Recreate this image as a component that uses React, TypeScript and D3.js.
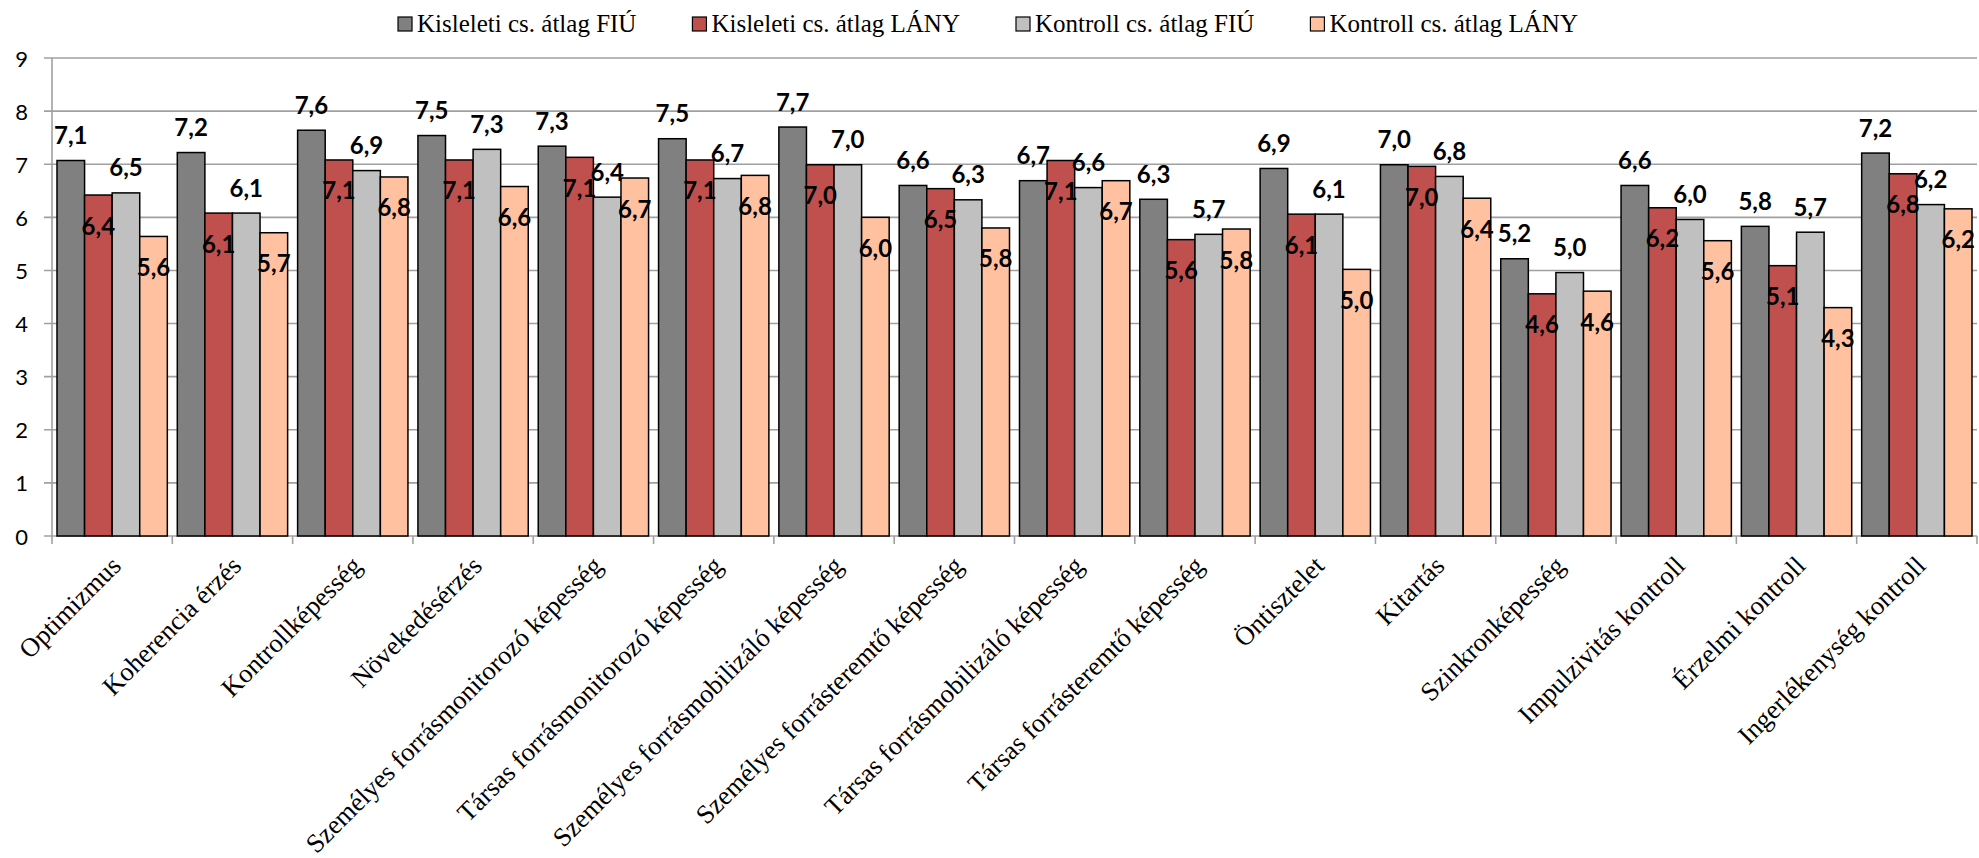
import React, { useEffect, useRef } from "react";
import * as d3 from "d3";

const categories = [
  "Optimizmus",
  "Koherencia érzés",
  "Kontrollképesség",
  "Növekedésérzés",
  "Személyes forrásmonitorozó képesség",
  "Társas forrásmonitorozó képesség",
  "Személyes forrásmobilizáló képesség",
  "Személyes forrásteremtő képesség",
  "Társas forrásmobilizáló képesség",
  "Társas forrásteremtő képesség",
  "Öntisztelet",
  "Kitartás",
  "Szinkronképesség",
  "Impulzivitás kontroll",
  "Érzelmi kontroll",
  "Ingerlékenység kontroll",
];

const seriesNames = [
  "Kisleleti cs. átlag FIÚ",
  "Kisleleti cs. átlag LÁNY",
  "Kontroll cs. átlag FIÚ",
  "Kontroll cs. átlag LÁNY",
];

const kisleletiFiu = [7.07, 7.22, 7.64, 7.54, 7.34, 7.48, 7.7, 6.6, 6.69, 6.34, 6.92, 6.99, 5.22, 6.6, 5.83, 7.21];
const kisleletiLany = [6.42, 6.08, 7.08, 7.08, 7.13, 7.08, 6.99, 6.54, 7.07, 5.58, 6.06, 6.96, 4.56, 6.18, 5.09, 6.82];
const kontrollFiu = [6.46, 6.08, 6.88, 7.28, 6.38, 6.73, 6.99, 6.33, 6.56, 5.68, 6.06, 6.77, 4.96, 5.96, 5.72, 6.24];
const kontrollLany = [5.64, 5.71, 6.76, 6.58, 6.74, 6.79, 6.0, 5.8, 6.69, 5.78, 5.02, 6.36, 4.61, 5.56, 4.3, 6.16];

const yTicks = [0, 1, 2, 3, 4, 5, 6, 7, 8, 9];

const colors = ["#808080", "#C0504D", "#C0C0C0", "#FFC19F"];
// label center offset relative to the bar top, per series (px)
const labelOffsets = [-25, 31, -25, 31];

const W = 1979;
const H = 858;

export default function App() {
  const ref = useRef<SVGSVGElement | null>(null);

  useEffect(() => {
    const svg = d3.select(ref.current);
    svg.selectAll("*").remove();

    const allSeries = [kisleletiFiu, kisleletiLany, kontrollFiu, kontrollLany];
    const left = 52;
    const right = 1977;
    const top = 58;
    const bottom = 536;

    const x = d3
      .scaleBand<string>()
      .domain(categories)
      .range([left, right])
      .paddingInner(0.083)
      .paddingOuter(0.0415);
    const x1 = d3
      .scaleBand<number>()
      .domain(d3.range(seriesNames.length))
      .range([0, x.bandwidth()]);
    const y = d3.scaleLinear().domain([0, 9]).range([bottom, top]);

    const g = svg.append("g");
    g.selectAll("line.grid")
      .data(yTicks)
      .join("line")
      .attr("x1", left - 8)
      .attr("x2", right)
      .attr("y1", (d) => y(d))
      .attr("y2", (d) => y(d))
      .attr("stroke", "#a0a0a0")
      .attr("stroke-width", 1.6);

    g.append("line")
      .attr("x1", left)
      .attr("x2", left)
      .attr("y1", top)
      .attr("y2", bottom)
      .attr("stroke", "#a0a0a0")
      .attr("stroke-width", 1.6);

    g.selectAll("text.ytick")
      .data(yTicks)
      .join("text")
      .attr("x", 28)
      .attr("y", (d) => y(d))
      .attr("text-anchor", "end")
      .attr("dominant-baseline", "central")
      .attr("font-family", "Lato, 'Open Sans', sans-serif")
      .attr("font-size", 22)
      .attr("fill", "#000")
      .text((d) => String(d));

    const boundaries = d3.range(categories.length + 1).map((i) => left + (i * (right - left)) / categories.length);
    g.selectAll("line.xtick")
      .data(boundaries)
      .join("line")
      .attr("x1", (d) => d)
      .attr("x2", (d) => d)
      .attr("y1", bottom)
      .attr("y2", bottom + 8)
      .attr("stroke", "#a0a0a0")
      .attr("stroke-width", 1.6);

    const groups = g
      .selectAll("g.cat")
      .data(categories)
      .join("g")
      .attr("transform", (d) => `translate(${x(d)},0)`);

    groups.each(function (cat, ci) {
      const gg = d3.select(this);
      allSeries.forEach((s, si) => {
        const v = s[ci];
        gg.append("rect")
          .attr("x", x1(si)!)
          .attr("y", y(v))
          .attr("width", x1.bandwidth())
          .attr("height", y(0) - y(v))
          .attr("fill", colors[si])
          .attr("stroke", "#000")
          .attr("stroke-width", 1.5);
      });
    });

    groups.each(function (cat, ci) {
      const gg = d3.select(this);
      allSeries.forEach((s, si) => {
        const v = s[ci];
        gg.append("text")
          .attr("x", x1(si)! + x1.bandwidth() / 2)
          .attr("y", y(v) + labelOffsets[si] + 8.5)
          .attr("text-anchor", "middle")
          .attr("font-family", "Lato, 'Open Sans', sans-serif")
          .attr("font-weight", "bold")
          .attr("font-size", 24)
          .attr("fill", "#000")
          .text(v.toFixed(1).replace(".", ","));
      });
    });

    g.selectAll("text.cat")
      .data(categories)
      .join("text")
      .attr(
        "transform",
        (d) => `translate(${x(d)! + x.bandwidth() / 2 + 4},${bottom + 25}) rotate(-45)`
      )
      .attr("text-anchor", "end")
      .attr("dominant-baseline", "central")
      .attr("font-family", "'Liberation Serif', 'Times New Roman', serif")
      .attr("font-size", 26.5)
      .attr("fill", "#000")
      .text((d) => d);

    const lg = svg.append("g");
    const items = seriesNames.map((name, i) => {
      const it = lg.append("g");
      it.append("rect")
        .attr("x", 0)
        .attr("y", 17)
        .attr("width", 14)
        .attr("height", 14)
        .attr("fill", colors[i])
        .attr("stroke", "#000")
        .attr("stroke-width", 1.2);
      const t = it
        .append("text")
        .attr("x", 19)
        .attr("y", 32)
        .attr("font-family", "'Liberation Serif', 'Times New Roman', serif")
        .attr("font-size", 25)
        .attr("fill", "#000")
        .text(name);
      const w = 19 + (t.node() as SVGTextElement).getComputedTextLength();
      return { it, w };
    });
    const gap = 56;
    const total = d3.sum(items, (d) => d.w) + gap * (items.length - 1);
    let cx = 988 - total / 2;
    items.forEach(({ it, w }) => {
      it.attr("transform", `translate(${cx},0)`);
      cx += w + gap;
    });
  }, []);

  return (
    <svg
      ref={ref}
      width={W}
      height={H}
      viewBox={`0 0 ${W} ${H}`}
      style={{ position: "absolute", left: 0, top: 0, background: "#fff", display: "block" }}
    />
  );
}
